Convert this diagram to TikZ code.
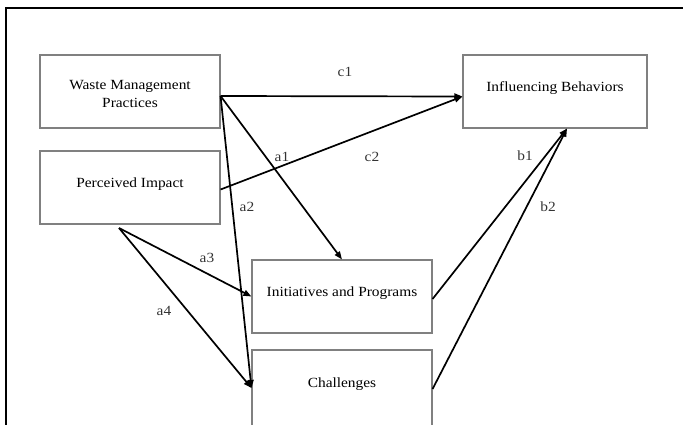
\documentclass[tikz,border=0pt]{standalone}
\usepackage{fontspec}
\setmainfont{Liberation Serif}[FakeStretch=1.1]
\usetikzlibrary{arrows.meta}
\definecolor{boxgray}{HTML}{808080}
\definecolor{labgray}{HTML}{333333}
\definecolor{txt}{HTML}{000000}
\begin{document}
\begin{tikzpicture}[x=1pt,y=-1pt,
  box/.style={draw=boxgray,line width=1.1pt,rectangle,inner sep=0pt,minimum width=180pt,minimum height=73pt},
  boxtext/.style={font=\fontsize{14}{17.5}\selectfont,text=txt,inner sep=0pt,align=center},
  plabel/.style={font=\fontsize{14}{17}\selectfont,text=labgray,inner sep=0pt},
  conn/.style={line width=1.7pt,-{Triangle[length=8pt,width=6pt]}},
  frameline/.style={line width=2.6pt,black}]
\useasboundingbox (0,0) rectangle (683,424);
% frame
\coordinate (fa) at (6,426);
\coordinate (fb) at (6,8);
\coordinate (fc) at (685,8);
\draw[frameline] (fa) -- (fb) -- (fc);
% boxes
\node[box] (wmp) at (130,91.5) {};
\node[box,minimum width=184pt] (ib) at (555,91.5) {};
\node[box] (pim) at (130,187.5) {};
\node[box] (ip) at (342,296.5) {};
\node[box,minimum height=76pt] (cha) at (342,388) {};
% box texts
\node[boxtext] (twmp) at (130,94) {Waste Management\\Practices};
\node[boxtext,anchor=base] (tib) at (555,91) {Influencing Behaviors};
\node[boxtext,anchor=base] (tpim) at (130,187) {Perceived Impact};
\node[boxtext,anchor=base] (tip) at (342,296) {Initiatives and Programs};
\node[boxtext,anchor=base] (tcha) at (342,387) {Challenges};
% connector end points
\coordinate (wo) at ([yshift=-4.5pt]wmp.east);
\coordinate (ibw) at ([yshift=-5pt]ib.west);
\coordinate (pe) at ([yshift=-2pt]pim.east);
\coordinate (ps) at (119,228);
\coordinate (ibs) at ([xshift=12pt]ib.south);
\coordinate (ipe) at ([yshift=-2.5pt]ip.east);
\coordinate (chae) at ([yshift=-1pt]cha.east);
% connectors
\draw[conn] (wo) -- (ibw);
\draw[conn] (wo) -- (ip.north);
\draw[conn] (wo) -- (cha.west);
\draw[conn] (pe) -- (ibw);
\draw[conn] (ps) -- (ip.west);
\draw[conn] (ps) -- (cha.west);
\draw[conn] (ipe) -- (ibs);
\draw[conn] (chae) -- (ibs);
% labels
\node[plabel] (lc1) at (345,72) {c1};
\node[plabel] (la1) at (282,157) {a1};
\node[plabel] (lc2) at (372,157) {c2};
\node[plabel] (la2) at (247,207) {a2};
\node[plabel] (la3) at (207,258) {a3};
\node[plabel] (la4) at (164,311) {a4};
\node[plabel] (lb1) at (525,156) {b1};
\node[plabel] (lb2) at (548,207) {b2};
\end{tikzpicture}
\end{document}
